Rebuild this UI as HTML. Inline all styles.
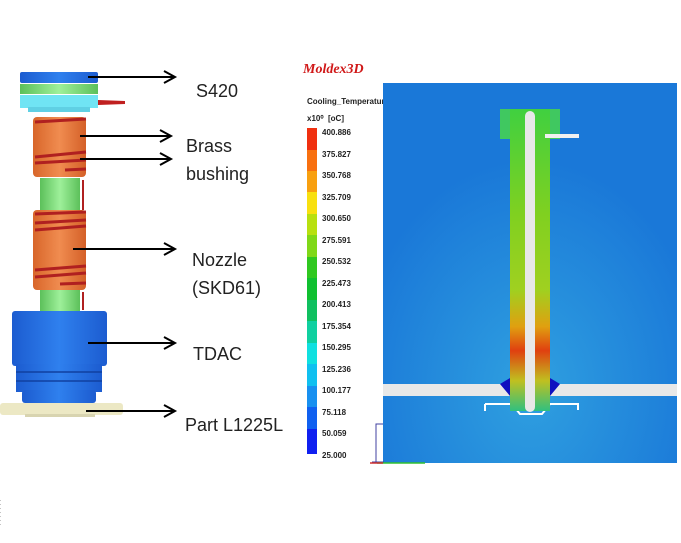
<!DOCTYPE html>
<html><head><style>
body{margin:0;background:#fff;width:681px;height:543px;overflow:hidden}
svg{display:block}
.l{font-family:"Liberation Sans",sans-serif;font-size:18px;fill:#222}
.s{font-family:"Liberation Sans",sans-serif;font-size:8px;font-weight:bold;fill:#222}
</style></head><body>
<svg width="681" height="543" viewBox="0 0 681 543">
<defs>
<linearGradient id="or" x1="0" x2="1"><stop offset="0" stop-color="#d8662a"/><stop offset=".5" stop-color="#f08c50"/><stop offset="1" stop-color="#d46028"/></linearGradient>
<linearGradient id="gr" x1="0" x2="1"><stop offset="0" stop-color="#5cc05a"/><stop offset=".5" stop-color="#9ef09a"/><stop offset="1" stop-color="#5cc05a"/></linearGradient>
<linearGradient id="bl" x1="0" x2="1"><stop offset="0" stop-color="#1c5cd0"/><stop offset=".5" stop-color="#2f80ee"/><stop offset="1" stop-color="#1c5cd0"/></linearGradient>
<radialGradient id="hot" cx="0.5" cy="0.8" r="0.6"><stop offset="0" stop-color="#2fa0e0"/><stop offset="1" stop-color="#1a78d8"/></radialGradient>
<linearGradient id="stem" x1="0" y1="0" x2="0" y2="1">
<stop offset="0" stop-color="#40d040"/><stop offset=".35" stop-color="#80d020"/><stop offset=".6" stop-color="#a0d020"/><stop offset=".72" stop-color="#e0a010"/><stop offset=".8" stop-color="#e04010"/><stop offset=".9" stop-color="#c0c020"/><stop offset="1" stop-color="#30c080"/></linearGradient>
</defs>
<!-- left figure -->
<rect x="20" y="72" width="78" height="11" rx="2" fill="url(#bl)"/>
<rect x="20" y="84" width="78" height="10" fill="url(#gr)"/>
<rect x="20" y="95" width="78" height="13" fill="#70e4f4"/>
<rect x="28" y="107" width="62" height="5" fill="#60d0e4"/>
<polygon points="98,100 125,101 125,104 98,105" fill="#c02020"/>
<rect x="33" y="117" width="53" height="60" rx="4" fill="url(#or)"/>
<path d="M35 122 L86 119 M35 157 L86 152 M35 163 L86 160 M65 170 L86 169" stroke="#b02020" stroke-width="3"/>
<rect x="40" y="178" width="40" height="32" fill="url(#gr)"/>
<rect x="82" y="180" width="2" height="30" fill="#b02020"/>
<rect x="33" y="210" width="53" height="80" rx="4" fill="url(#or)"/>
<path d="M35 214 L86 212 M35 223 L86 220 M35 230 L86 226 M35 270 L86 266 M35 277 L86 273 M60 284 L86 283" stroke="#b02020" stroke-width="3"/>
<rect x="40" y="290" width="40" height="21" fill="url(#gr)"/>
<rect x="82" y="292" width="2" height="18" fill="#b02020"/>
<rect x="12" y="311" width="95" height="55" rx="3" fill="url(#bl)"/>
<rect x="16" y="364" width="86" height="28" fill="url(#bl)"/>
<path d="M16 372 H102 M16 381 H102" stroke="#1040a0" stroke-width="1.5"/>
<rect x="22" y="390" width="74" height="13" rx="3" fill="url(#bl)"/>
<rect x="0" y="403" width="123" height="12" rx="3" fill="#ece8c4"/>
<rect x="25" y="414" width="70" height="3" fill="#d8d4b0"/>
<!-- arrows -->
<g stroke="#000" stroke-width="2" fill="none">
<path d="M88 77 H174 M164 71 L175 77 L164 83"/>
<path d="M80 136 H170 M160 130 L171 136 L160 142"/>
<path d="M80 159 H170 M160 153 L171 159 L160 165"/>
<path d="M73 249 H174 M164 243 L175 249 L164 255"/>
<path d="M88 343 H174 M164 337 L175 343 L164 349"/>
<path d="M86 411 H174 M164 405 L175 411 L164 417"/>
</g>
<text class="l" x="196" y="97">S420</text>
<text class="l" x="186" y="152">Brass</text>
<text class="l" x="186" y="180">bushing</text>
<text class="l" x="192" y="266">Nozzle</text>
<text class="l" x="192" y="294">(SKD61)</text>
<text class="l" x="193" y="360">TDAC</text>
<text class="l" x="185" y="431">Part L1225L</text>
<!-- right -->
<text x="303" y="73" font-family="Liberation Serif" font-style="italic" font-weight="bold" font-size="14" fill="#d01818">Moldex3D</text>
<text class="s" x="307" y="104">Cooling_Temperature</text>
<text class="s" x="307" y="121">x10⁰ &#160;[oC]</text>
<g>
<rect x="307" y="128" width="10" height="22" fill="#f03010"/>
<rect x="307" y="150" width="10" height="21" fill="#f87010"/>
<rect x="307" y="171" width="10" height="21" fill="#f8a010"/>
<rect x="307" y="192" width="10" height="22" fill="#f8e010"/>
<rect x="307" y="214" width="10" height="21" fill="#b8e010"/>
<rect x="307" y="235" width="10" height="22" fill="#80d818"/>
<rect x="307" y="257" width="10" height="21" fill="#30c820"/>
<rect x="307" y="278" width="10" height="22" fill="#10c030"/>
<rect x="307" y="300" width="10" height="21" fill="#10c060"/>
<rect x="307" y="321" width="10" height="22" fill="#10d0a0"/>
<rect x="307" y="343" width="10" height="21" fill="#10e0e0"/>
<rect x="307" y="364" width="10" height="22" fill="#10c0f0"/>
<rect x="307" y="386" width="10" height="21" fill="#1890f0"/>
<rect x="307" y="407" width="10" height="22" fill="#1060f0"/>
<rect x="307" y="429" width="10" height="25" fill="#1020f0"/>
</g>
<g class="s"><text class="s" x="322" y="135">400.886</text><text class="s" x="322" y="157">375.827</text><text class="s" x="322" y="178">350.768</text><text class="s" x="322" y="200">325.709</text><text class="s" x="322" y="221">300.650</text><text class="s" x="322" y="243">275.591</text><text class="s" x="322" y="264">250.532</text><text class="s" x="322" y="286">225.473</text><text class="s" x="322" y="307">200.413</text><text class="s" x="322" y="329">175.354</text><text class="s" x="322" y="350">150.295</text><text class="s" x="322" y="372">125.236</text><text class="s" x="322" y="393">100.177</text><text class="s" x="322" y="415">75.118</text><text class="s" x="322" y="436">50.059</text><text class="s" x="322" y="458">25.000</text></g>
<rect x="383" y="83" width="294" height="380" fill="url(#hot)"/>
<rect x="383" y="384" width="294" height="12" fill="#e8e8e8"/>
<path d="M485 404 L512 404 L520 414 L542 414 L550 404 L578 404 L578 410" stroke="#fff" stroke-width="2" fill="none"/>
<path d="M485 411 V404" stroke="#fff" stroke-width="2"/>
<rect x="500" y="109" width="60" height="30" fill="#40c860"/>
<rect x="510" y="109" width="40" height="302" fill="url(#stem)"/>
<path d="M500 384 L510 378 L510 396 Z M560 384 L550 378 L550 396 Z" fill="#1010c0"/>
<rect x="545" y="134" width="34" height="4" fill="#f0f0f0"/>
<rect x="525" y="111" width="10" height="301" rx="5" fill="#e8e8e8"/>
<path d="M383 424 H376 V462 M372 462 H384" stroke="#4040a0" stroke-width="1" fill="none"/>
<path d="M377 463 H425" stroke="#30c030" stroke-width="1.5"/>
<path d="M370 463 H383" stroke="#d03030" stroke-width="1.5"/>
<path d="M0 500 V525" stroke="#888" stroke-dasharray="1 3"/>
</svg>
</body></html>
